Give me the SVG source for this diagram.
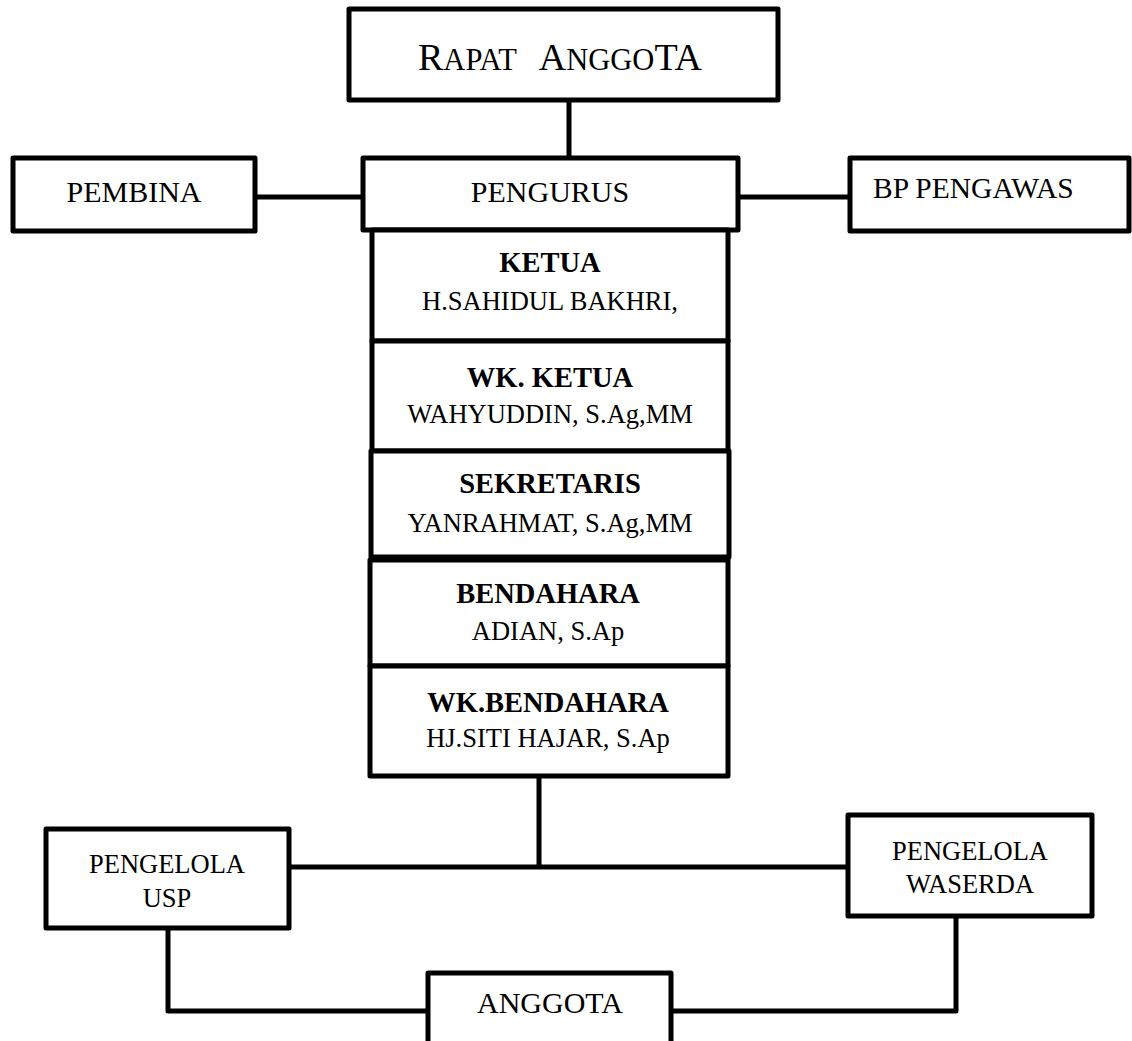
<svg xmlns="http://www.w3.org/2000/svg" width="1132" height="1041" viewBox="0 0 1132 1041">
<style>
.box{fill:#fff;stroke:#000;stroke-width:5;stroke-linejoin:round}
.con{fill:none;stroke:#000;stroke-width:5;stroke-linejoin:round}
text{font-family:"Liberation Serif","Times New Roman",serif;fill:#000}
.t{font-size:30px;text-anchor:middle}
.b{font-size:28.5px;font-weight:bold;text-anchor:middle}
.n{font-size:26.5px;text-anchor:middle}
</style>
<rect width="1132" height="1041" fill="#fff"/>
<g id="connectors">
<path class="con" d="M569 100V158"/>
<path class="con" d="M255 197H363"/>
<path class="con" d="M738 197H850"/>
<path class="con" d="M539 776V867"/>
<path class="con" d="M289 867H848"/>
<path class="con" d="M168 928V1011H428"/>
<path class="con" d="M956 916V1011H671"/>
</g>
<g id="rapat-anggota">
<rect class="box" x="349" y="9" width="429" height="91"/>
<text x="418" y="70" font-size="38">R<tspan font-size="30.5">APAT</tspan><tspan dx="22">A</tspan><tspan font-size="30.5">NGGO</tspan>TA</text>
</g>
<g id="pembina">
<rect class="box" x="13" y="158" width="242" height="73"/>
<text class="t" x="134" y="202">PEMBINA</text>
</g>
<g id="pengurus">
<rect class="box" x="363" y="158" width="375" height="72"/>
<text class="t" x="550" y="202">PENGURUS</text>
</g>
<g id="bp-pengawas">
<rect class="box" x="850" y="158" width="279" height="73"/>
<text x="873" y="198" font-size="29.5">BP PENGAWAS</text>
</g>
<g id="ketua">
<rect class="box" x="372" y="230" width="356" height="111"/>
<text class="b" x="550" y="272">KETUA</text>
<text class="n" x="550" y="310" font-size="29">H.SAHIDUL BAKHRI,</text>
</g>
<g id="wk-ketua">
<rect class="box" x="372" y="341" width="356" height="110"/>
<text class="b" x="550" y="387">WK. KETUA</text>
<text class="n" x="550" y="423">WAHYUDDIN, S.Ag,MM</text>
</g>
<g id="sekretaris">
<rect class="box" x="371" y="451" width="358" height="106"/>
<text class="b" x="550" y="493">SEKRETARIS</text>
<text class="n" x="550" y="532">YANRAHMAT, S.Ag,MM</text>
</g>
<g id="bendahara">
<rect class="box" x="370" y="560" width="358" height="106"/>
<text class="b" x="548" y="603">BENDAHARA</text>
<text class="n" x="548" y="640">ADIAN, S.Ap</text>
</g>
<g id="wk-bendahara">
<rect class="box" x="370" y="666" width="358" height="110"/>
<text class="b" x="548" y="712">WK.BENDAHARA</text>
<text class="n" x="548" y="747">HJ.SITI HAJAR, S.Ap</text>
</g>
<g id="pengelola-usp">
<rect class="box" x="46" y="829" width="243" height="99"/>
<text class="n" x="167" y="873">PENGELOLA</text>
<text class="n" x="167" y="907">USP</text>
</g>
<g id="pengelola-waserda">
<rect class="box" x="848" y="815" width="244" height="101"/>
<text class="n" x="970" y="860">PENGELOLA</text>
<text class="n" x="970" y="893">WASERDA</text>
</g>
<g id="anggota">
<rect class="box" x="428" y="973" width="243" height="80"/>
<text class="t" x="550" y="1013">ANGGOTA</text>
</g>
</svg>
